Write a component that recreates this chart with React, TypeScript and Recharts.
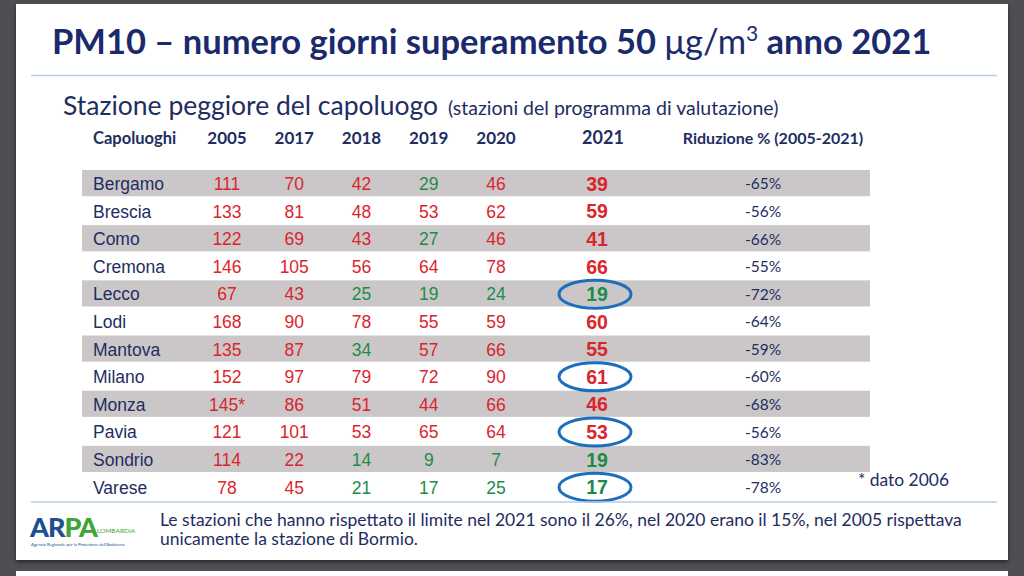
import { ComposedChart, Scatter, XAxis, YAxis } from 'recharts'

// PM10 – giorni di superamento 50 µg/m3, stazione peggiore per capoluogo
const cities = ['Bergamo', 'Brescia', 'Como', 'Cremona', 'Lecco', 'Lodi', 'Mantova', 'Milano', 'Monza', 'Pavia', 'Sondrio', 'Varese']
const years = ['2005', '2017', '2018', '2019', '2020']
const days2005 = [111, 133, 122, 146, 67, 168, 135, 152, 145, 121, 114, 78]
const days2017 = [70, 81, 69, 105, 43, 90, 87, 97, 86, 101, 22, 45]
const days2018 = [42, 48, 43, 56, 25, 78, 34, 79, 51, 53, 14, 21]
const days2019 = [29, 53, 27, 64, 19, 55, 57, 72, 44, 65, 9, 17]
const days2020 = [46, 62, 46, 78, 24, 59, 66, 90, 66, 64, 7, 25]
const days2021 = [39, 59, 41, 66, 19, 60, 55, 61, 46, 53, 19, 17]
const reduction = [-65, -56, -66, -55, -72, -64, -59, -60, -68, -56, -83, -78]
const circled = ['Lecco', 'Milano', 'Pavia', 'Varese']
const starred = ['Monza|2005'] // dato 2006
const printedRed = ['Sondrio|2017'] // rosso nell'originale anche se sotto 35
const LIMIT = 35
const col2021 = '2021'
const colReduction = 'Riduzione % (2005-2021)'

const byYear = [days2005, days2017, days2018, days2019, days2020]
// one entry per row, every other row gets the grey band
const rowBands = cities.map((city, i) => ({ city, col: years[0], band: i % 2 === 0 }))
const yearCells = cities.flatMap((city, i) =>
  years.map((col, j) => ({ city, col, value: byYear[j][i] }))
)
const cells2021 = cities.map((city, i) => ({ city, col: col2021, value: days2021[i] }))
const cellsReduction = cities.map((city, i) => ({ city, col: colReduction, value: reduction[i] }))

const NAVY = '#1e2d62'
const RED = '#db252c'
const GREEN = '#1d8c48'
const STRIPE = '#cbc7c8'
const LINE = '#b9cde6'
const HEADER_Y = 144
const ROW_PAD = 13.8
const PLOT_LEFT = 82
const PLOT_WIDTH = 788

function HeaderTick(props: any) {
  const { x, payload, fontSize = 17, dx = 0 } = props
  return (
    <text x={x + dx} y={HEADER_Y} textAnchor="middle" fontFamily="Lato" fontWeight={700} fontSize={fontSize} fill={NAVY}>
      {payload.value}
    </text>
  )
}

function CityTick(props: any) {
  const { x, y, payload } = props
  return (
    <text x={x + 3} y={y} dy="0.36em" textAnchor="start" fontFamily="Liberation Sans" fontSize={17.5} fill={NAVY}>
      {payload.value}
    </text>
  )
}

function RowBand(props: any) {
  const { cy, payload } = props
  if (!payload.band) return <g />
  return <rect x={PLOT_LEFT} y={cy - ROW_PAD} width={PLOT_WIDTH} height={2 * ROW_PAD - 1.4} fill={STRIPE} />
}

function YearCell(props: any) {
  const { cx, cy, payload } = props
  const key = payload.city + '|' + payload.col
  const red = payload.value > LIMIT || printedRed.includes(key)
  return (
    <text x={cx} y={cy} dy="0.36em" textAnchor="middle" fontFamily="Liberation Sans" fontSize={17.5} fill={red ? RED : GREEN}>
      {payload.value}
      {starred.includes(key) ? '*' : ''}
    </text>
  )
}

function Cell2021(props: any) {
  const { cx, cy, payload } = props
  return (
    <g>
      <text x={cx} y={cy} dy="0.36em" textAnchor="middle" fontFamily="Liberation Sans" fontWeight={700} fontSize={19.5} fill={payload.value > LIMIT ? RED : GREEN}>
        {payload.value}
      </text>
      {circled.includes(payload.city) && (
        <ellipse cx={cx - 2} cy={cy} rx={36} ry={14} fill="none" stroke="#1d6fbd" strokeWidth={3} />
      )}
    </g>
  )
}

function ReductionCell(props: any) {
  const { cx, cy, payload } = props
  return (
    <text x={cx} y={cy} dy="0.36em" textAnchor="middle" fontFamily="Lato" fontSize={15.5} fill={NAVY}>
      {payload.value}%
    </text>
  )
}

function Slide() {
  return (
    <svg width={1024} height={576} style={{ position: 'absolute', left: 0, top: 0, pointerEvents: 'none' }}>
      <text x={52} y={54} fontFamily="Lato" fontWeight={700} fontSize={34.5} fill="#1a2a6c">
        PM10 – numero giorni superamento 50 <tspan fontWeight={400}>μg/m</tspan>
        <tspan fontWeight={400} fontSize={21} dy={-13}>3</tspan>
        <tspan dy={13}> anno 2021</tspan>
      </text>
      <line x1={31} x2={997} y1={75.5} y2={75.5} stroke={LINE} strokeWidth={1.5} />
      <text x={63} y={115} fontFamily="Lato" fontSize={26.5} fill={NAVY}>
        Stazione peggiore del capoluogo
      </text>
      <text x={448} y={115} fontFamily="Lato" fontSize={19.5} fill={NAVY}>
        (stazioni del programma di valutazione)
      </text>
      <text x={93} y={HEADER_Y} fontFamily="Lato" fontWeight={700} fontSize={16.5} fill={NAVY}>Capoluoghi</text>
      <text x={858} y={486} fontFamily="Lato" fontSize={17.4} fill={NAVY}>* dato 2006</text>
      <line x1={31} x2={997} y1={502} y2={502} stroke={LINE} strokeWidth={1.5} />
      <text x={30} y={537} fontFamily="Lato" fontWeight={900} fontSize={27} letterSpacing={-1}>
        <tspan fill="#1d4f91">AR</tspan>
        <tspan fill="#3fa535">PA</tspan>
      </text>
      <text x={97} y={533} fontFamily="Lato" fontSize={6.5} fill="#3fa535">LOMBARDIA</text>
      <text x={31} y={546} fontFamily="Lato" fontSize={4.3} fill="#1d4f91">
        Agenzia Regionale per la Protezione dell'Ambiente
      </text>
      <text x={160} y={526} fontFamily="Lato" fontSize={17.5} fill={NAVY}>
        Le stazioni che hanno rispettato il limite nel 2021 sono il 26%, nel 2020 erano il 15%, nel 2005 rispettava
      </text>
      <text x={160} y={545} fontFamily="Lato" fontSize={17.5} fill={NAVY}>
        unicamente la stazione di Bormio.
      </text>
    </svg>
  )
}

export default function App() {
  return (
    <div style={{ position: 'absolute', left: 0, top: 0, width: 1024, height: 576, background: '#4d4f53', overflow: 'hidden' }}>
      <div style={{ position: 'absolute', left: 16, top: 4, width: 992, height: 556, background: '#fff', boxShadow: '0 2px 4px rgba(0,0,0,0.5)' }} />
      <div style={{ position: 'absolute', left: 16, top: 571, width: 992, height: 20, background: '#fff' }} />
      <div style={{ position: 'absolute', left: 0, top: 0 }}>
        <ComposedChart width={1024} height={576} margin={{ top: 170, right: 1024 - PLOT_LEFT - PLOT_WIDTH, bottom: 75, left: PLOT_LEFT }}>
          <XAxis
            xAxisId="years"
            type="category"
            dataKey="col"
            allowDuplicatedCategory={false}
            orientation="top"
            mirror
            padding={{ left: 145, right: 374 }}
            axisLine={false}
            tickLine={false}
            tick={<HeaderTick />}
          />
          <XAxis
            xAxisId="y2021"
            type="category"
            dataKey="col"
            allowDuplicatedCategory={false}
            orientation="top"
            mirror
            padding={{ left: 495, right: 253 }}
            axisLine={false}
            tickLine={false}
            tick={<HeaderTick fontSize={18} dx={6} />}
          />
          <XAxis
            xAxisId="rid"
            type="category"
            dataKey="col"
            allowDuplicatedCategory={false}
            orientation="top"
            mirror
            padding={{ left: 661, right: 87 }}
            axisLine={false}
            tickLine={false}
            tick={<HeaderTick fontSize={16} dx={10} />}
          />
          <YAxis
            yAxisId="rows"
            type="category"
            dataKey="city"
            allowDuplicatedCategory={false}
            mirror
            reversed
            padding={{ top: ROW_PAD, bottom: ROW_PAD }}
            axisLine={false}
            tickLine={false}
            tick={<CityTick />}
          />
          <Scatter xAxisId="years" yAxisId="rows" data={rowBands} shape={<RowBand />} isAnimationActive={false} />
          <Scatter xAxisId="years" yAxisId="rows" data={yearCells} shape={<YearCell />} isAnimationActive={false} />
          <Scatter xAxisId="y2021" yAxisId="rows" data={cells2021} shape={<Cell2021 />} isAnimationActive={false} />
          <Scatter xAxisId="rid" yAxisId="rows" data={cellsReduction} shape={<ReductionCell />} isAnimationActive={false} />
        </ComposedChart>
      </div>
      <Slide />
    </div>
  )
}
